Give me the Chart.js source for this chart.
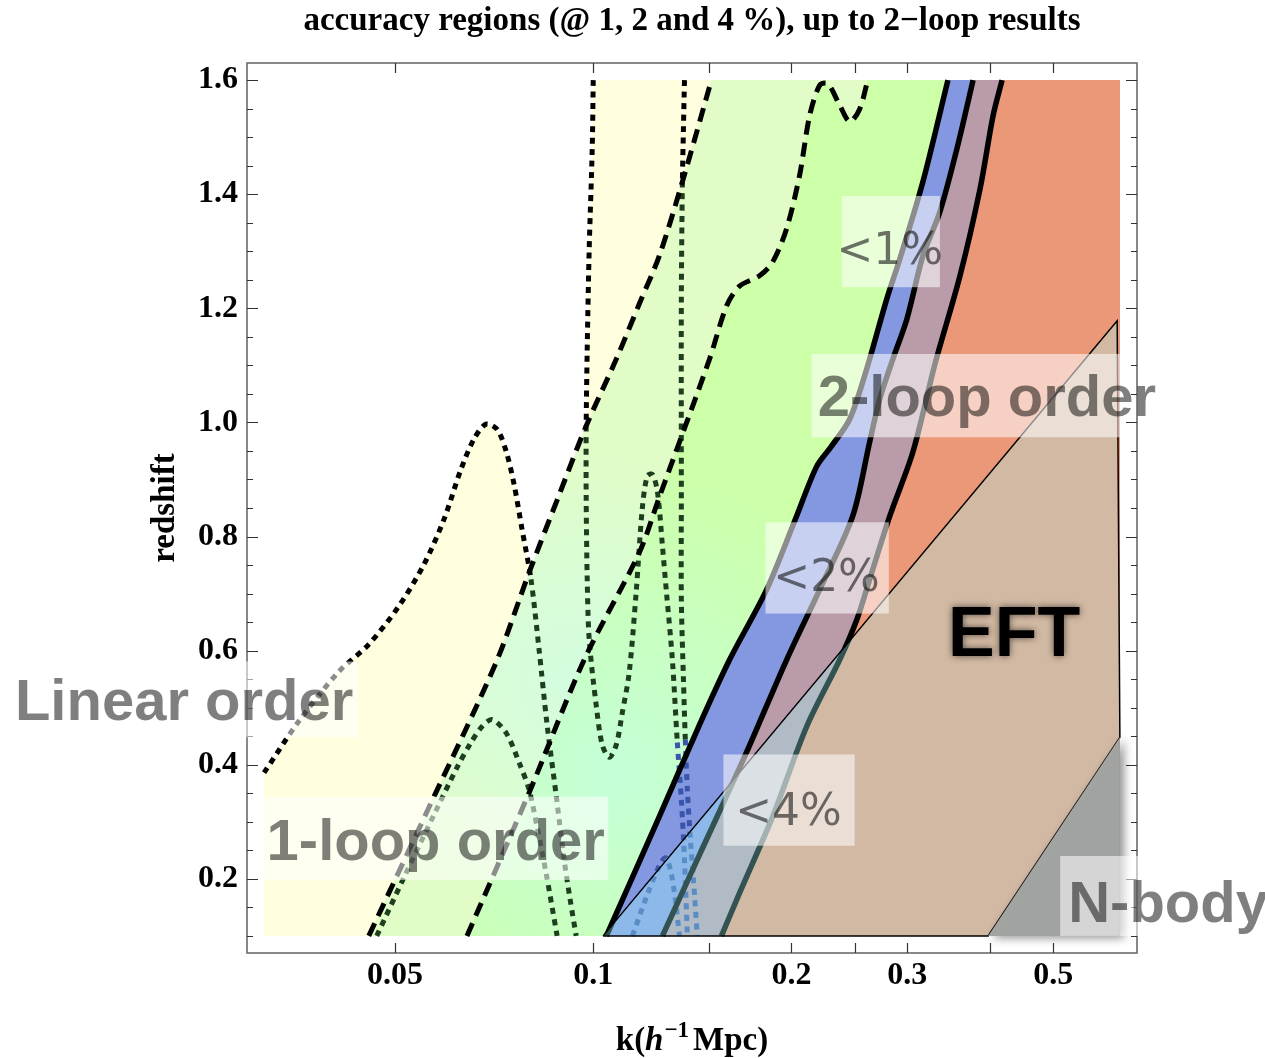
<!DOCTYPE html>
<html lang="en">
<head>
<meta charset="utf-8">
<title>accuracy regions</title>
<script src="https://cdn.jsdelivr.net/npm/chart.js@4.4.1/dist/chart.umd.min.js"></script>
<style>
  html, body { margin: 0; padding: 0; background: #ffffff; }
  canvas { display: block; }
</style>
</head>
<body>
<canvas id="regions" width="1265" height="1058"></canvas>
<script>
// k-z domain that was scanned
const K_MIN = 0.031623;
const K_MAX = 0.630957;
const Z_MIN = 0.1;
const Z_MAX = 1.6;

// axis ranges (domain plus a little padding)
const K_LO = 0.02979, K_HI = 0.6699;
const Z_LO = 0.07, Z_HI = 1.63;

const kTicks = [0.05, 0.1, 0.15, 0.2, 0.25, 0.3, 0.4, 0.5];
const kTickLabels = ['0.05', '0.1', '', '0.2', '', '0.3', '', '0.5'];
const zTicks = [0.1, 0.15, 0.2, 0.25, 0.3, 0.35, 0.4, 0.45, 0.5, 0.55, 0.6, 0.65, 0.7, 0.75,
  0.8, 0.85, 0.9, 0.95, 1.0, 1.05, 1.1, 1.15, 1.2, 1.25, 1.3, 1.35, 1.4, 1.45, 1.5, 1.55, 1.6];
const zTickLabels = ['0.2', '0.4', '0.6', '0.8', '1.0', '1.2', '1.4', '1.6'];

// linear order contours [k, z]  (dotted)
const linearOuter = [[0.03162, 0.386], [0.03569, 0.476], [0.04106, 0.563], [0.04561, 0.611],
  [0.05067, 0.678], [0.05531, 0.751], [0.05933, 0.830], [0.06297, 0.918], [0.06590, 0.971],
  [0.06871, 0.997], [0.07144, 0.988], [0.07372, 0.950], [0.07580, 0.892], [0.07795, 0.813],
  [0.08044, 0.725], [0.08274, 0.602], [0.08510, 0.470], [0.08783, 0.347], [0.09034, 0.233],
  [0.09226, 0.163], [0.09421, 0.1]];
const linearInner = [[0.04690, 0.1], [0.05157, 0.202], [0.05728, 0.312], [0.06209, 0.395],
  [0.06522, 0.439], [0.06778, 0.467], [0.07020, 0.479], [0.07372, 0.456], [0.07716, 0.404],
  [0.07991, 0.356], [0.08218, 0.291], [0.08480, 0.210], [0.08814, 0.1]];
const linearMid = [[0.1, 1.6], [0.09965, 1.480], [0.09860, 1.304], [0.09792, 1.129], [0.09757, 0.994],
  [0.09757, 0.865], [0.09792, 0.725], [0.09860, 0.620], [0.1011, 0.502], [0.1032, 0.435],
  [0.1058, 0.413], [0.1084, 0.435], [0.1107, 0.491], [0.1134, 0.561], [0.1162, 0.702],
  [0.1187, 0.848], [0.1208, 0.906], [0.1230, 0.909], [0.1252, 0.878], [0.1274, 0.783],
  [0.1292, 0.702], [0.1319, 0.584], [0.1342, 0.439], [0.1361, 0.339], [0.1376, 0.233], [0.1390, 0.1]];
const linearRight = [[0.1376, 1.6], [0.1371, 1.515], [0.1366, 1.422], [0.1361, 1.217], [0.1361, 0.865],
  [0.1361, 0.690], [0.1371, 0.550], [0.1380, 0.444], [0.1390, 0.356], [0.1405, 0.268],
  [0.1420, 0.198], [0.1439, 0.1]];
const linearIsland = [[0.1147, 0.1], [0.1208, 0.172], [0.1260, 0.223], [0.1287, 0.237],
  [0.1310, 0.216], [0.1333, 0.163], [0.1352, 0.1]];

// 1-loop contours (dashed)
const oneLoopLeft = [[0.04561, 0.1], [0.05628, 0.325], [0.07117, 0.579], [0.07991, 0.737],
  [0.08876, 0.873], [0.09757, 0.994], [0.1084, 1.111], [0.1175, 1.208], [0.1260, 1.292],
  [0.1366, 1.422], [0.1512, 1.6]];
const oneLoopRight = [[0.06430, 0.1], [0.07991, 0.351], [0.09689, 0.584], [0.1175, 0.772],
  [0.1260, 0.869], [0.1502, 1.111], [0.1594, 1.204], [0.1668, 1.239], [0.1789, 1.257],
  [0.1873, 1.281], [0.1967, 1.340], [0.2058, 1.433], [0.2132, 1.538], [0.2208, 1.591],
  [0.2271, 1.594], [0.2368, 1.556], [0.2453, 1.527], [0.2541, 1.550], [0.2612, 1.6]];

// 2-loop contours (solid)
const twoLoopLeft = [[0.1047, 0.1], [0.1260, 0.309], [0.1450, 0.470], [0.1611, 0.584], [0.1834, 0.707],
  [0.2037, 0.836], [0.2185, 0.923], [0.2300, 0.958], [0.2453, 1.006], [0.2603, 1.094],
  [0.2793, 1.217], [0.2923, 1.287], [0.3168, 1.422], [0.3458, 1.6]];
const twoLoopMid = [[0.1274, 0.1], [0.1450, 0.242], [0.1698, 0.414], [0.1967, 0.584], [0.2208, 0.707],
  [0.2479, 0.836], [0.2630, 0.966], [0.2724, 1.041], [0.2852, 1.111], [0.2995, 1.181],
  [0.3168, 1.292], [0.3362, 1.369], [0.3569, 1.480], [0.3776, 1.6]];
const twoLoopRight = [[0.1566, 0.1], [0.1668, 0.175], [0.1873, 0.309], [0.2110, 0.467], [0.2368, 0.584],
  [0.2514, 0.654], [0.2630, 0.725], [0.2822, 0.836], [0.3059, 0.948], [0.3304, 1.102],
  [0.3607, 1.257], [0.3870, 1.410], [0.4050, 1.538], [0.4179, 1.6]];

// EFT and N-body domains
const eftPolygon = [[0.1035, 0.1], [0.625, 1.178], [0.631, 0.448], [0.398, 0.1]];
const nbodyPolygon = [[0.398, 0.1], [0.631, 0.448], [0.631, 0.1]];

const toXY = pts => pts.map(([x, y]) => ({x, y}));
const rightEdge = [[K_MAX, Z_MAX], [K_MAX, Z_MIN]];

const INK = '#000000';
const DARK_GREEN = '#1d3e1f';
const DEEP_BLUE = '#3a56ab';

const DOTTED = {width: 5, dash: [6, 5.5], order: 90};
const DASHED = {width: 5, dash: [14, 8], order: 89};
const SOLID = {width: 5.5, dash: [], order: 88};

function region(points, color, order) {
  return {data: toXY(points), fill: 'shape', backgroundColor: color, borderWidth: 0,
    pointRadius: 0, tension: 0, order};
}

function contour(points, style, colorAt) {
  const ds = {data: toXY(points), fill: false, borderColor: INK, borderWidth: style.width,
    borderDash: style.dash, borderCapStyle: 'butt', borderJoinStyle: 'round',
    pointRadius: 0, tension: 0.3, order: style.order};
  if (colorAt) ds.segment = {borderColor: c => colorAt(c.p0DataIndex)};
  return ds;
}

function radialFill(kc, zc, radius, inner, outer) {
  return function (context) {
    const chart = context.chart;
    const xs = chart.scales.x, ys = chart.scales.y;
    if (!chart.chartArea || !xs || !ys) return outer;
    const cx = xs.getPixelForValue(kc), cy = ys.getPixelForValue(zc);
    const g = chart.ctx.createRadialGradient(cx, cy, 0, cx, cy, radius);
    g.addColorStop(0, inner);
    g.addColorStop(1, outer);
    return g;
  };
}

const yellowArea = [[K_MIN, Z_MIN], ...linearOuter.slice(0, 15), oneLoopLeft[4], oneLoopLeft[5],
  ...linearMid.slice(0, 4).reverse(), ...rightEdge];

const datasets = [
  region(yellowArea, '#ffffdf', 100),
  region([...oneLoopLeft, ...rightEdge], radialFill(0.093, 0.55, 240, '#d3fde0', '#e1fcc6'), 99),
  region([...oneLoopRight, ...rightEdge], radialFill(0.108, 0.38, 320, '#c4ffd8', '#cdffa8'), 98),
  region([...twoLoopLeft, ...rightEdge], '#8398e0', 97),
  region([...twoLoopMid, ...rightEdge], '#b99baa', 96),
  region([...twoLoopRight, ...rightEdge], '#ea9878', 95),

  contour(linearOuter, DOTTED, i => (i < 14 ? INK : DARK_GREEN)),
  contour(linearInner, DOTTED, () => DARK_GREEN),
  contour(linearMid, DOTTED, i => (i < 4 ? INK : i < 22 ? DARK_GREEN : DEEP_BLUE)),
  contour(linearRight, DOTTED, i => (i < 2 ? INK : i < 7 ? DARK_GREEN : DEEP_BLUE)),
  contour(linearIsland, DOTTED, () => DEEP_BLUE),

  contour(oneLoopLeft, DASHED),
  contour(oneLoopRight, DASHED),

  contour(twoLoopLeft, SOLID),
  contour(twoLoopMid, SOLID),
  contour(twoLoopRight, SOLID),

  {role: 'eft', data: toXY([...eftPolygon, eftPolygon[0]]), fill: 'shape',
    backgroundColor: 'rgba(159,255,255,0.32)', borderColor: INK, borderWidth: 1.5,
    pointRadius: 0, tension: 0, order: 80},
  {role: 'nbody', data: toXY(nbodyPolygon), fill: 'shape',
    backgroundColor: 'rgba(161,165,164,0.97)', borderWidth: 0,
    pointRadius: 0, tension: 0, order: 79}
];

// text boxes: box = [kLeft, kRight, zBottom, zTop], at = anchor [k, z]
const annotations = [
  {text: 'Linear order', box: [0.0129, 0.0440, 0.448, 0.581], at: [0.01323, 0.479], kind: 'order'},
  {text: '1-loop order', box: [K_MIN, 0.1054, 0.198, 0.344], at: [0.0319, 0.233], kind: 'order'},
  {text: '2-loop order', box: [0.2147, K_MAX, 0.974, 1.120], at: [0.2193, 1.011], kind: 'order'},
  {text: 'N-body', box: [0.512, 0.678, Z_MIN, 0.240], at: [0.5266, 0.124], kind: 'order'},
  {text: '<1%', box: [0.2385, 0.3362, 1.237, 1.397], at: [0.2822, 1.278], kind: 'pct'},
  {text: '<2%', box: [0.1827, 0.2812, 0.665, 0.825], at: [0.2262, 0.704], kind: 'pct'},
  {text: '<4%', box: [0.1577, 0.2495, 0.258, 0.418], at: [0.1980, 0.295], kind: 'pct'}
];
const eftLabel = {text: 'EFT', at: [0.3458, 0.590]};

const SERIF_BOLD = 'bold 33px "Liberation Serif"';

function isMajorZ(v) {
  return Math.abs(v * 5 - Math.round(v * 5)) < 1e-6;
}

// the N-body patch casts a soft shadow; it is drawn right after the EFT patch
const nbodyShadow = {
  id: 'nbodyShadow',
  afterDatasetDraw(chart, args) {
    const role = chart.data.datasets[args.index].role;
    const ctx = chart.ctx;
    if (role === 'eft') {
      ctx.shadowColor = 'rgba(0,0,0,0.45)';
      ctx.shadowBlur = 10;
      ctx.shadowOffsetX = 4;
      ctx.shadowOffsetY = 2;
    } else if (role === 'nbody') {
      ctx.shadowColor = 'rgba(0,0,0,0)';
      ctx.shadowBlur = 0;
      ctx.shadowOffsetX = 0;
      ctx.shadowOffsetY = 0;
    }
  }
};

function drawKTitle(ctx, cx, baseline) {
  const pieces = [
    {t: 'k(', font: SERIF_BOLD, dy: 0, gap: 0},
    {t: 'h', font: 'italic bold 33px "Liberation Serif"', dy: 0, gap: 1},
    {t: '\u22121', font: 'bold 23px "Liberation Serif"', dy: -13, gap: 4},
    {t: 'Mpc)', font: SERIF_BOLD, dy: 0, gap: 0}
  ];
  let total = 0;
  pieces.forEach(p => {
    ctx.font = p.font;
    p.w = ctx.measureText(p.t).width;
    total += p.w + p.gap;
  });
  let x = cx - total / 2;
  ctx.textAlign = 'left';
  ctx.textBaseline = 'alphabetic';
  ctx.fillStyle = '#000';
  pieces.forEach(p => {
    ctx.font = p.font;
    ctx.fillText(p.t, x, baseline + p.dy);
    x += p.w + p.gap;
  });
}

const decorations = {
  id: 'decorations',
  afterDatasetsDraw(chart) {
    const {ctx, chartArea: a} = chart;
    const xs = chart.scales.x, ys = chart.scales.y;
    ctx.save();

    // frame
    ctx.strokeStyle = '#6b6b6b';
    ctx.lineWidth = 1.6;
    ctx.strokeRect(a.left, a.top, a.right - a.left, a.bottom - a.top);

    // inward tick marks on all four sides
    ctx.strokeStyle = '#333';
    ctx.lineWidth = 1.2;
    ctx.beginPath();
    kTicks.forEach(v => {
      const p = Math.round(xs.getPixelForValue(v)) + 0.5;
      ctx.moveTo(p, a.bottom); ctx.lineTo(p, a.bottom - 10);
      ctx.moveTo(p, a.top); ctx.lineTo(p, a.top + 10);
    });
    zTicks.forEach(v => {
      const p = Math.round(ys.getPixelForValue(v)) + 0.5;
      const len = isMajorZ(v) ? 11 : 6;
      ctx.moveTo(a.left, p); ctx.lineTo(a.left + len, p);
      ctx.moveTo(a.right, p); ctx.lineTo(a.right - len, p);
    });
    ctx.stroke();

    // label boxes
    annotations.forEach(an => {
      const [k0, k1, z0, z1] = an.box;
      const x0 = xs.getPixelForValue(k0), x1 = xs.getPixelForValue(k1);
      const y0 = ys.getPixelForValue(z1), y1 = ys.getPixelForValue(z0);
      ctx.fillStyle = 'rgba(255,255,255,0.55)';
      ctx.fillRect(x0, y0, x1 - x0, y1 - y0);
      const tx = xs.getPixelForValue(an.at[0]), ty = ys.getPixelForValue(an.at[1]);
      ctx.textBaseline = 'alphabetic';
      if (an.kind === 'order') {
        ctx.font = 'bold 58px "Liberation Sans"';
        ctx.textAlign = 'left';
        ctx.fillStyle = 'rgba(0,0,0,0.5)';
      } else {
        ctx.font = '44px "DejaVu Sans"';
        ctx.textAlign = 'center';
        ctx.fillStyle = 'rgba(20,20,20,0.6)';
      }
      ctx.fillText(an.text, tx, ty);
    });

    // EFT label with a dark glow
    ctx.font = 'bold 70px "Liberation Sans"';
    ctx.textAlign = 'left';
    ctx.fillStyle = '#000';
    ctx.shadowColor = 'rgba(0,0,0,0.6)';
    ctx.shadowBlur = 7;
    ctx.fillText(eftLabel.text, xs.getPixelForValue(eftLabel.at[0]), ys.getPixelForValue(eftLabel.at[1]));
    ctx.restore();
  },
  afterDraw(chart) {
    const {ctx, chartArea: a} = chart;
    const cx = (a.left + a.right) / 2;
    ctx.save();
    ctx.fillStyle = '#000';
    ctx.font = SERIF_BOLD;
    ctx.textAlign = 'center';
    ctx.textBaseline = 'alphabetic';
    ctx.fillText('accuracy regions (@ 1, 2 and 4 %), up to 2\u2212loop results', cx, 30);

    drawKTitle(ctx, cx, 1050);

    ctx.translate(174, (a.top + a.bottom) / 2);
    ctx.rotate(-Math.PI / 2);
    ctx.font = SERIF_BOLD;
    ctx.textAlign = 'center';
    ctx.fillText('redshift', 0, 0);
    ctx.restore();
  }
};

new Chart(document.getElementById('regions'), {
  type: 'line',
  data: {datasets},
  options: {
    responsive: false,
    animation: false,
    devicePixelRatio: 1,
    events: [],
    layout: {padding: {top: 63, right: 128, left: 0, bottom: 0}},
    plugins: {
      legend: {display: false},
      tooltip: {enabled: false},
      title: {display: false},
      filler: {drawTime: 'beforeDatasetDraw', propagate: false}
    },
    scales: {
      x: {
        type: 'logarithmic',
        position: 'bottom',
        bounds: 'data',
        min: K_LO,
        max: K_HI,
        afterBuildTicks: s => { s.ticks = kTicks.map(v => ({value: v})); },
        afterFit: s => { s.height = 105; },
        grid: {display: false, drawTicks: false},
        border: {display: false},
        ticks: {
          autoSkip: false,
          maxRotation: 0,
          padding: 4,
          color: '#000',
          font: {family: 'Liberation Serif', size: 32, weight: 'bold'},
          callback: v => {
            const i = kTicks.indexOf(v);
            return i >= 0 ? kTickLabels[i] : '';
          }
        }
      },
      y: {
        type: 'linear',
        position: 'left',
        bounds: 'data',
        min: Z_LO,
        max: Z_HI,
        afterBuildTicks: s => { s.ticks = zTicks.map(v => ({value: v})); },
        afterFit: s => { s.width = 247; },
        grid: {display: false, drawTicks: false},
        border: {display: false},
        ticks: {
          autoSkip: false,
          padding: 9,
          color: '#000',
          font: {family: 'Liberation Serif', size: 32, weight: 'bold'},
          callback: v => {
            const lab = v.toFixed(1);
            return isMajorZ(v) && zTickLabels.includes(lab) ? lab : '';
          }
        }
      }
    }
  },
  plugins: [nbodyShadow, decorations]
});
</script>
</body>
</html>
